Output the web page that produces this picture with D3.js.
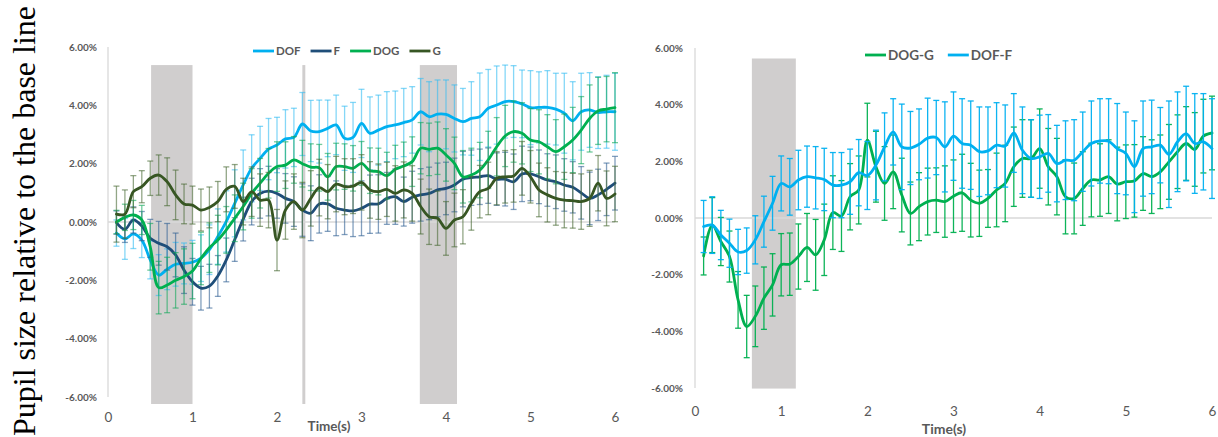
<!DOCTYPE html>
<html>
<head>
<meta charset="utf-8">
<script src="https://cdn.jsdelivr.net/npm/d3@7"></script>
<style>
  body { margin: 0; background: #fff; }
  svg { display: block; }
</style>
</head>
<body>
<svg id="chart" width="1218" height="437"></svg>
<script>
// Sample times (s)
const time = [0.1,0.2,0.3,0.4,0.5,0.6,0.7,0.8,0.9,1.0,1.1,1.2,1.3,1.4,1.5,1.6,1.7,1.8,1.9,2.0,
  2.1,2.2,2.3,2.4,2.5,2.6,2.7,2.8,2.9,3.0,3.1,3.2,3.3,3.4,3.5,3.6,3.7,3.8,3.9,4.0,
  4.1,4.2,4.3,4.4,4.5,4.6,4.7,4.8,4.9,5.0,5.1,5.2,5.3,5.4,5.5,5.6,5.7,5.8,5.9,6.0];

// Left panel: mean pupil change (%) per condition, with error half-widths
const dof = [-0.38,-0.58,-0.41,-0.62,-1.30,-1.82,-1.62,-1.45,-1.42,-1.38,-1.24,-0.95,-0.50,0.02,0.64,1.27,1.84,2.18,2.50,2.64,
  2.85,2.90,3.36,3.12,3.10,3.21,3.33,2.87,2.90,3.38,3.04,3.15,3.27,3.33,3.41,3.50,3.78,3.61,3.70,3.69,
  3.55,3.44,3.55,3.61,3.90,4.01,4.13,4.13,4.05,3.92,3.93,3.93,3.87,3.73,3.47,3.78,3.84,3.75,3.78,3.78];
const dofErr = [0.45,0.70,0.50,0.60,0.65,0.70,0.70,0.75,0.70,0.75,0.80,0.85,0.95,1.05,1.15,1.20,1.15,1.10,1.05,0.95,
  1.00,1.00,1.08,1.05,1.08,0.97,1.02,1.10,1.20,1.17,1.25,1.20,1.20,1.16,1.17,1.14,1.14,1.20,1.17,1.18,
  1.15,1.14,1.26,1.50,1.33,1.34,1.25,1.23,1.16,1.27,1.22,1.26,1.23,1.37,1.34,1.32,1.28,1.23,1.25,1.32];

const f = [-0.02,-0.25,0.07,-0.14,-0.56,-0.73,-0.85,-1.13,-1.65,-2.05,-2.27,-2.20,-1.85,-1.30,-0.60,0.10,0.70,0.98,1.06,0.98,
  0.81,0.70,0.41,0.30,0.62,0.62,0.47,0.41,0.38,0.47,0.61,0.62,0.81,0.87,0.70,0.85,0.93,0.98,1.10,1.15,
  1.27,1.47,1.52,1.55,1.59,1.47,1.47,1.38,1.65,1.65,1.55,1.44,1.38,1.27,1.19,1.00,0.81,0.93,1.12,1.33];
const fErr = [0.40,0.45,0.45,0.50,0.65,0.75,0.80,0.75,0.80,0.80,0.75,0.75,0.70,0.75,0.75,0.75,0.80,0.85,0.85,0.85,
  0.85,0.85,0.90,0.94,1.00,0.94,0.94,0.84,0.88,0.94,1.00,1.00,0.89,0.95,0.84,0.89,0.90,0.90,0.92,0.90,
  0.92,0.95,0.95,0.95,0.95,0.90,0.92,0.95,0.95,0.92,0.92,0.90,0.92,0.90,0.88,0.90,0.90,0.88,0.90,0.92];

const dog = [0.00,0.16,0.24,0.07,-0.85,-2.25,-2.16,-2.00,-1.87,-1.68,-1.25,-0.88,-0.62,-0.27,0.13,0.53,0.98,1.33,1.67,1.90,
  1.95,2.13,2.00,1.88,1.86,1.55,1.90,1.90,1.84,2.01,1.76,1.73,1.59,1.81,1.92,2.07,2.53,2.49,2.53,2.30,
  2.01,1.55,1.61,1.78,2.13,2.58,2.95,3.10,3.04,2.81,2.75,2.58,2.41,2.58,2.81,3.15,3.55,3.81,3.87,3.92];
const dogErr = [0.40,0.45,0.50,0.50,0.80,0.90,0.95,0.95,0.95,0.95,0.90,0.85,0.85,0.80,0.80,0.80,0.85,0.85,0.85,0.85,
  0.80,0.80,0.80,0.80,0.80,0.80,0.80,0.78,0.78,0.75,0.78,0.80,0.80,0.82,0.82,0.85,0.88,0.90,0.90,0.90,
  0.90,0.90,0.92,0.95,0.98,1.00,1.05,1.05,1.05,1.08,1.10,1.10,1.10,1.12,1.12,1.15,1.15,1.15,1.12,1.20];

const g = [0.27,0.27,1.04,1.21,1.50,1.61,1.38,0.93,0.62,0.58,0.41,0.50,0.70,1.12,1.22,0.70,1.04,0.75,0.75,-0.62,
  0.41,0.70,0.41,0.81,1.18,1.04,1.30,1.21,1.23,1.36,1.10,1.04,1.12,0.98,1.10,0.98,0.53,0.18,0.13,-0.22,
  0.07,0.18,0.64,1.04,1.15,1.50,1.55,1.58,1.84,1.55,1.10,0.93,0.81,0.75,0.73,0.70,0.81,1.33,0.81,0.96];
const gErr = [0.96,0.83,0.55,0.55,0.59,0.69,0.82,0.85,0.68,0.65,0.72,0.70,0.69,0.77,0.75,0.80,0.85,0.90,0.95,1.05,
  1.00,0.95,0.95,0.95,0.97,0.93,0.95,0.96,0.94,0.95,0.97,0.95,0.93,0.95,0.96,0.95,0.94,0.95,0.93,0.92,
  0.92,0.93,0.92,0.90,0.90,0.91,0.90,0.90,0.92,0.90,0.92,0.93,0.92,0.95,0.94,0.95,0.96,0.95,0.94,0.95];

// Right panel: differences between conditions
const dogG = [-1.34,-0.25,-0.83,-1.36,-2.89,-3.83,-3.47,-2.83,-2.36,-1.65,-1.63,-1.36,-1.04,-1.30,-0.77,0.19,0.07,0.75,0.99,2.75,
  1.81,1.22,1.63,0.81,0.16,0.40,0.58,0.63,0.58,0.77,0.89,0.63,0.52,0.69,0.99,1.22,1.81,2.10,2.10,2.45,
  1.81,1.46,0.75,0.69,1.04,1.34,1.34,1.46,1.20,1.28,1.31,1.57,1.46,1.63,1.98,2.34,2.63,2.42,2.89,3.00];
const dogGErr = [0.67,0.97,0.85,0.90,1.00,1.10,1.07,1.10,1.10,1.10,1.10,1.15,1.20,1.25,1.26,1.30,1.25,1.17,1.20,1.30,
  1.25,1.30,1.30,1.30,1.11,1.20,1.18,1.14,1.26,1.28,1.36,1.30,1.17,1.02,1.30,1.35,1.40,1.37,1.37,1.40,
  1.35,1.35,1.31,1.25,1.30,1.30,1.28,1.30,1.30,1.30,1.28,1.30,1.30,1.30,1.32,1.30,1.30,1.30,1.30,1.30];

const dofF = [-0.30,-0.25,-0.60,-0.89,-1.20,-1.15,-0.77,-0.13,0.52,1.22,1.10,1.34,1.46,1.42,1.36,1.16,1.16,1.28,1.60,1.50,
  1.87,2.51,3.04,2.51,2.47,2.60,2.82,2.84,2.51,2.89,2.63,2.57,2.34,2.37,2.57,2.54,3.00,2.39,2.10,2.16,
  2.28,1.92,2.04,2.04,2.34,2.63,2.72,2.71,2.45,2.28,1.81,2.45,2.51,2.57,2.25,2.69,2.98,2.63,2.69,2.45];
const dofFErr = [0.92,1.00,0.87,0.85,0.80,0.80,0.85,0.90,0.95,0.97,1.00,1.05,1.08,1.10,1.10,1.15,1.15,1.15,1.17,1.20,
  1.23,1.20,1.17,1.51,1.29,1.25,1.41,1.31,1.59,1.56,1.58,1.56,1.58,1.55,1.50,1.45,1.39,1.53,1.37,1.47,
  1.37,1.35,1.39,1.43,1.40,1.50,1.49,1.50,1.59,1.46,1.62,1.68,1.65,1.33,1.88,1.76,1.67,1.76,1.70,1.76];

// Y tick values (%), x tick values (s)
const yTicks = [-6, -4, -2, 0, 2, 4, 6];
const xTicks = [0, 1, 2, 3, 4, 5, 6];

// Shaded stimulus windows: [start s, end s, top %, bottom %]
const leftBands = [[0.51, 1.0, 5.38, -6.24], [3.69, 4.13, 5.38, -6.24], [2.30, 2.335, 5.38, -6.24]];
const rightBands = [[0.66, 1.17, 5.63, -6.02]];

const svg = d3.select('#chart');
const labelGrey = '#595959';
const axisGrey = '#d9d9d9';
const bandGrey = '#d0cece';
const fontUI = 'Lato, "Open Sans", sans-serif';

function drawPanel(p) {
  const x = d3.scaleLinear().domain([0, 6]).range(p.xRange);
  const y = d3.scaleLinear().domain([-6, 6]).range(p.yRange);
  const gp = svg.append('g');

  // shaded windows
  gp.selectAll('rect.band').data(p.bands).join('rect')
    .attr('x', d => x(d[0])).attr('width', d => x(d[1]) - x(d[0]))
    .attr('y', d => y(d[2])).attr('height', d => y(d[3]) - y(d[2]))
    .attr('fill', bandGrey);

  // vertical axis line and baseline at zero
  gp.append('line').attr('x1', x(0)).attr('x2', x(0)).attr('y1', y(6)).attr('y2', y(-6))
    .attr('stroke', axisGrey).attr('stroke-width', 1.3);
  gp.append('line').attr('x1', x(0)).attr('x2', x(6)).attr('y1', y(0)).attr('y2', y(0))
    .attr('stroke', axisGrey).attr('stroke-width', 1.5);

  // y tick labels
  const ya = gp.append('g').attr('transform', `translate(${x(0)},0)`)
    .call(d3.axisLeft(y).tickValues(yTicks).tickSize(0).tickPadding(p.yPad)
      .tickFormat(v => v.toFixed(2) + '%'));
  ya.select('.domain').remove();
  ya.selectAll('text').attr('fill', labelGrey).attr('font-family', fontUI)
    .attr('font-weight', 700).attr('font-size', 10);

  // x tick labels
  const xa = gp.append('g').attr('transform', `translate(0,${y(-6)})`)
    .call(d3.axisBottom(x).tickValues(xTicks).tickSize(0).tickPadding(p.xPad).tickFormat(d3.format('d')));
  xa.select('.domain').remove();
  xa.selectAll('text').attr('fill', labelGrey).attr('font-family', fontUI)
    .attr('font-size', 13.5);

  // x axis title
  gp.append('text').attr('x', p.titleX).attr('y', p.titleY).attr('text-anchor', 'middle')
    .attr('fill', labelGrey).attr('font-family', fontUI).attr('font-weight', 700)
    .attr('font-size', p.titleSize).text('Time(s)');

  // series: error bars then smoothed line
  const line = d3.line().x((d, i) => x(time[i])).y(d => y(d)).curve(d3.curveCatmullRom.alpha(0.5));
  p.series.forEach(s => {
    const eg = gp.append('g').attr('stroke', s.errColor).attr('stroke-opacity', p.errOpacity)
      .attr('stroke-width', 1.3).attr('fill', 'none');
    const pts = s.values.map((v, i) => ({t: time[i], v, e: s.errors[i]}));
    eg.selectAll('line.stem').data(pts).join('line')
      .attr('x1', d => x(d.t)).attr('x2', d => x(d.t))
      .attr('y1', d => y(d.v + d.e)).attr('y2', d => y(d.v - d.e));
    eg.selectAll('line.capTop').data(pts).join('line')
      .attr('x1', d => x(d.t) - 3).attr('x2', d => x(d.t) + 3)
      .attr('y1', d => y(d.v + d.e)).attr('y2', d => y(d.v + d.e));
    eg.selectAll('line.capBot').data(pts).join('line')
      .attr('x1', d => x(d.t) - 3).attr('x2', d => x(d.t) + 3)
      .attr('y1', d => y(d.v - d.e)).attr('y2', d => y(d.v - d.e));
    gp.append('path').attr('d', line(s.values)).attr('fill', 'none')
      .attr('stroke', s.color).attr('stroke-width', 2.8)
      .attr('stroke-linejoin', 'round').attr('stroke-linecap', 'round');
  });

  // legend
  let lx = p.legendX;
  p.series.forEach(s => {
    gp.append('line').attr('x1', lx).attr('x2', lx + 21).attr('y1', p.legendY).attr('y2', p.legendY)
      .attr('stroke', s.color).attr('stroke-width', 2.8);
    const t = gp.append('text').attr('x', lx + 23).attr('y', p.legendY).attr('dy', '0.35em')
      .attr('fill', labelGrey).attr('font-family', fontUI).attr('font-weight', 700)
      .attr('font-size', p.legendSize).text(s.name);
    lx += 23 + t.node().getComputedTextLength() + p.legendGap;
  });
}

drawPanel({
  xRange: [108, 615], yRange: [397, 47], yPad: 11, xPad: 15,
  bands: leftBands, titleX: 329, titleY: 431, titleSize: 13.5, errOpacity: 0.6,
  legendX: 253, legendY: 51, legendSize: 11.5, legendGap: 10,
  series: [
    {name: 'DOF', values: dof, errors: dofErr, color: '#00b0f0', errColor: '#33bdf2'},
    {name: 'F', values: f, errors: fErr, color: '#1f4e79', errColor: '#2f5f92'},
    {name: 'DOG', values: dog, errors: dogErr, color: '#00b050', errColor: '#12a95a'},
    {name: 'G', values: g, errors: gErr, color: '#375623', errColor: '#4a6a36'}
  ]
});

drawPanel({
  xRange: [695, 1212], yRange: [388, 48], yPad: 12, xPad: 18,
  bands: rightBands, titleX: 944, titleY: 433.5, titleSize: 14, errOpacity: 0.95,
  legendX: 865, legendY: 55, legendSize: 13.5, legendGap: 14,
  series: [
    {name: 'DOG-G', values: dogG, errors: dogGErr, color: '#00b050', errColor: '#00b050'},
    {name: 'DOF-F', values: dofF, errors: dofFErr, color: '#00b0f0', errColor: '#00b0f0'}
  ]
});

// shared y-axis title
svg.append('text')
  .attr('transform', 'translate(35,221) rotate(-90)')
  .attr('text-anchor', 'middle')
  .attr('font-family', '"Liberation Serif", "Times New Roman", serif')
  .attr('font-size', 32).attr('fill', '#000')
  .text('Pupil size relative to the base line');
</script>
</body>
</html>
